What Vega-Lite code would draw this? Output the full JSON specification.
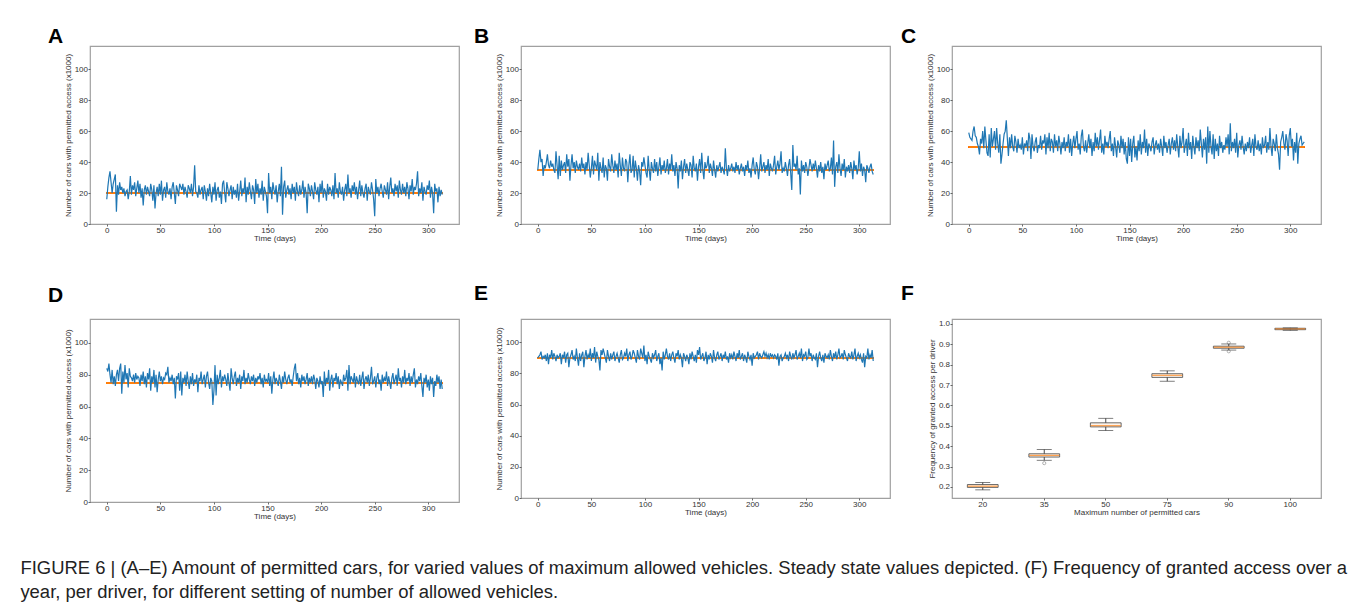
{"$schema":"https://vega.github.io/schema/vega-lite/v6.json","background":"white","padding":{"left":20,"top":25,"right":5,"bottom":5},
"datasets":{
"ts":[
{"t":0,"A":16,"B":35,"C":59,"D":84,"E":90},{"t":1,"A":24,"B":42,"C":56,"D":82,"E":91},{"t":2,"A":30,"B":48,"C":55,"D":87,"E":92},{"t":3,"A":34,"B":40,"C":54,"D":80,"E":94},{"t":4,"A":27,"B":42,"C":60,"D":75,"E":89},{"t":5,"A":20,"B":31,"C":63,"D":83,"E":91},{"t":6,"A":26,"B":38,"C":57,"D":74,"E":90},{"t":7,"A":29,"B":36,"C":56,"D":79,"E":92},{"t":8,"A":32,"B":40,"C":52,"D":73,"E":88},{"t":9,"A":8,"B":45,"C":50,"D":80,"E":93},
{"t":10,"A":25,"B":38,"C":45,"D":83,"E":86},{"t":11,"A":19,"B":36,"C":55,"D":76,"E":92},{"t":12,"A":27,"B":41,"C":52,"D":84,"E":90},{"t":13,"A":22,"B":37,"C":60,"D":87,"E":95},{"t":14,"A":24,"B":39,"C":49,"D":68,"E":89},{"t":15,"A":20,"B":35,"C":63,"D":82,"E":93},{"t":16,"A":23,"B":33,"C":54,"D":75,"E":91},{"t":17,"A":18,"B":47,"C":46,"D":86,"E":88},{"t":18,"A":21,"B":38,"C":44,"D":77,"E":92},{"t":19,"A":22,"B":29,"C":58,"D":81,"E":90},
{"t":20,"A":16,"B":44,"C":43,"D":72,"E":91},{"t":21,"A":21,"B":31,"C":62,"D":84,"E":93},{"t":22,"A":31,"B":41,"C":50,"D":79,"E":86},{"t":23,"A":19,"B":35,"C":55,"D":78,"E":92},{"t":24,"A":25,"B":38,"C":60,"D":76,"E":90},{"t":25,"A":22,"B":40,"C":48,"D":80,"E":94},{"t":26,"A":27,"B":33,"C":62,"D":75,"E":87},{"t":27,"A":18,"B":45,"C":52,"D":81,"E":92},{"t":28,"A":23,"B":37,"C":46,"D":77,"E":93},{"t":29,"A":28,"B":42,"C":58,"D":79,"E":84},
{"t":30,"A":20,"B":28,"C":39,"D":78,"E":90},{"t":31,"A":26,"B":38,"C":45,"D":73,"E":92},{"t":32,"A":17,"B":45,"C":52,"D":80,"E":95},{"t":33,"A":23,"B":36,"C":58,"D":76,"E":89},{"t":34,"A":12,"B":40,"C":60,"D":82,"E":91},{"t":35,"A":22,"B":33,"C":67,"D":74,"E":88},{"t":36,"A":25,"B":41,"C":55,"D":79,"E":96},{"t":37,"A":19,"B":37,"C":44,"D":72,"E":90},{"t":38,"A":24,"B":35,"C":56,"D":81,"E":85},{"t":39,"A":21,"B":39,"C":49,"D":77,"E":93},
{"t":40,"A":18,"B":34,"C":58,"D":84,"E":88},{"t":41,"A":26,"B":43,"C":50,"D":70,"E":92},{"t":42,"A":22,"B":36,"C":47,"D":79,"E":94},{"t":43,"A":15,"B":39,"C":57,"D":75,"E":84},{"t":44,"A":25,"B":32,"C":53,"D":83,"E":91},{"t":45,"A":10,"B":40,"C":46,"D":72,"E":95},{"t":46,"A":20,"B":35,"C":55,"D":80,"E":89},{"t":47,"A":24,"B":46,"C":49,"D":69,"E":92},{"t":48,"A":18,"B":38,"C":51,"D":77,"E":90},{"t":49,"A":26,"B":30,"C":48,"D":82,"E":96},
{"t":50,"A":19,"B":36,"C":56,"D":76,"E":88},{"t":51,"A":28,"B":44,"C":45,"D":79,"E":93},{"t":52,"A":15,"B":32,"C":52,"D":74,"E":90},{"t":53,"A":22,"B":41,"C":50,"D":78,"E":97},{"t":54,"A":24,"B":38,"C":54,"D":77,"E":87},{"t":55,"A":17,"B":35,"C":47,"D":81,"E":94},{"t":56,"A":27,"B":46,"C":59,"D":80,"E":91},{"t":57,"A":21,"B":28,"C":55,"D":85,"E":89},{"t":58,"A":19,"B":40,"C":42,"D":75,"E":82},{"t":59,"A":23,"B":36,"C":58,"D":78,"E":95},
{"t":60,"A":16,"B":33,"C":50,"D":76,"E":92},{"t":61,"A":24,"B":43,"C":47,"D":80,"E":96},{"t":62,"A":27,"B":30,"C":53,"D":74,"E":93},{"t":63,"A":20,"B":38,"C":56,"D":78,"E":90},{"t":64,"A":13,"B":36,"C":46,"D":65,"E":87},{"t":65,"A":25,"B":28,"C":51,"D":79,"E":95},{"t":66,"A":22,"B":42,"C":49,"D":77,"E":91},{"t":67,"A":18,"B":37,"C":57,"D":81,"E":88},{"t":68,"A":26,"B":34,"C":48,"D":70,"E":93},{"t":69,"A":24,"B":45,"C":54,"D":82,"E":89},
{"t":70,"A":22,"B":38,"C":52,"D":67,"E":92},{"t":71,"A":26,"B":33,"C":58,"D":78,"E":94},{"t":72,"A":19,"B":41,"C":45,"D":75,"E":88},{"t":73,"A":24,"B":35,"C":56,"D":80,"E":91},{"t":74,"A":21,"B":39,"C":49,"D":73,"E":93},{"t":75,"A":17,"B":30,"C":59,"D":82,"E":90},{"t":76,"A":25,"B":46,"C":47,"D":76,"E":87},{"t":77,"A":23,"B":38,"C":55,"D":71,"E":92},{"t":78,"A":20,"B":31,"C":53,"D":79,"E":95},{"t":79,"A":26,"B":43,"C":46,"D":74,"E":89},
{"t":80,"A":18,"B":36,"C":58,"D":81,"E":90},{"t":81,"A":24,"B":34,"C":50,"D":73,"E":93},{"t":82,"A":38,"B":42,"C":54,"D":77,"E":91},{"t":83,"A":21,"B":40,"C":47,"D":75,"E":96},{"t":84,"A":20,"B":27,"C":57,"D":80,"E":88},{"t":85,"A":17,"B":38,"C":52,"D":69,"E":92},{"t":86,"A":25,"B":45,"C":45,"D":78,"E":94},{"t":87,"A":19,"B":33,"C":53,"D":76,"E":89},{"t":88,"A":22,"B":35,"C":49,"D":82,"E":91},{"t":89,"A":24,"B":44,"C":56,"D":74,"E":95},
{"t":90,"A":16,"B":30,"C":47,"D":77,"E":93},{"t":91,"A":25,"B":41,"C":53,"D":80,"E":90},{"t":92,"A":21,"B":36,"C":50,"D":72,"E":87},{"t":93,"A":15,"B":28,"C":58,"D":79,"E":95},{"t":94,"A":23,"B":38,"C":46,"D":82,"E":91},{"t":95,"A":18,"B":34,"C":55,"D":75,"E":89},{"t":96,"A":26,"B":25,"C":44,"D":71,"E":96},{"t":97,"A":20,"B":40,"C":52,"D":78,"E":93},{"t":98,"A":14,"B":37,"C":57,"D":76,"E":90},{"t":99,"A":24,"B":43,"C":49,"D":61,"E":98},
{"t":100,"A":19,"B":38,"C":55,"D":70,"E":88},{"t":101,"A":27,"B":33,"C":60,"D":86,"E":92},{"t":102,"A":15,"B":30,"C":48,"D":67,"E":86},{"t":103,"A":22,"B":44,"C":52,"D":80,"E":94},{"t":104,"A":24,"B":35,"C":45,"D":74,"E":91},{"t":105,"A":17,"B":28,"C":57,"D":78,"E":89},{"t":106,"A":21,"B":40,"C":61,"D":83,"E":87},{"t":107,"A":13,"B":36,"C":50,"D":72,"E":93},{"t":108,"A":26,"B":33,"C":47,"D":79,"E":90},{"t":109,"A":28,"B":42,"C":54,"D":76,"E":92},
{"t":110,"A":20,"B":34,"C":46,"D":80,"E":95},{"t":111,"A":14,"B":40,"C":52,"D":77,"E":88},{"t":112,"A":27,"B":31,"C":58,"D":73,"E":91},{"t":113,"A":23,"B":37,"C":49,"D":81,"E":93},{"t":114,"A":18,"B":43,"C":55,"D":75,"E":86},{"t":115,"A":22,"B":32,"C":44,"D":70,"E":90},{"t":116,"A":25,"B":38,"C":53,"D":84,"E":82},{"t":117,"A":16,"B":35,"C":47,"D":78,"E":94},{"t":118,"A":24,"B":41,"C":59,"D":74,"E":89},{"t":119,"A":19,"B":33,"C":50,"D":79,"E":92},
{"t":120,"A":22,"B":36,"C":56,"D":82,"E":96},{"t":121,"A":17,"B":42,"C":48,"D":73,"E":91},{"t":122,"A":26,"B":32,"C":54,"D":78,"E":89},{"t":123,"A":15,"B":39,"C":61,"D":75,"E":93},{"t":124,"A":21,"B":35,"C":46,"D":80,"E":88},{"t":125,"A":28,"B":45,"C":52,"D":71,"E":92},{"t":126,"A":18,"B":34,"C":45,"D":79,"E":94},{"t":127,"A":23,"B":38,"C":57,"D":76,"E":90},{"t":128,"A":20,"B":31,"C":50,"D":83,"E":87},{"t":129,"A":30,"B":40,"C":53,"D":74,"E":93},
{"t":130,"A":14,"B":36,"C":49,"D":78,"E":91},{"t":131,"A":24,"B":23,"C":55,"D":75,"E":95},{"t":132,"A":19,"B":38,"C":60,"D":81,"E":89},{"t":133,"A":27,"B":34,"C":47,"D":77,"E":92},{"t":134,"A":21,"B":41,"C":52,"D":74,"E":90},{"t":135,"A":16,"B":29,"C":44,"D":79,"E":84},{"t":136,"A":25,"B":37,"C":56,"D":76,"E":93},{"t":137,"A":22,"B":42,"C":50,"D":80,"E":91},{"t":138,"A":13,"B":33,"C":43,"D":73,"E":88},{"t":139,"A":29,"B":39,"C":54,"D":78,"E":92},
{"t":140,"A":20,"B":35,"C":51,"D":75,"E":90},{"t":141,"A":26,"B":31,"C":46,"D":79,"E":86},{"t":142,"A":17,"B":40,"C":57,"D":77,"E":93},{"t":143,"A":23,"B":38,"C":49,"D":81,"E":89},{"t":144,"A":19,"B":30,"C":55,"D":74,"E":94},{"t":145,"A":28,"B":44,"C":45,"D":78,"E":91},{"t":146,"A":15,"B":36,"C":53,"D":72,"E":88},{"t":147,"A":24,"B":34,"C":42,"D":80,"E":92},{"t":148,"A":21,"B":39,"C":39,"D":76,"E":87},{"t":149,"A":18,"B":28,"C":56,"D":77,"E":95},
{"t":150,"A":7,"B":37,"C":44,"D":75,"E":92},{"t":151,"A":33,"B":42,"C":55,"D":81,"E":97},{"t":152,"A":20,"B":33,"C":40,"D":73,"E":89},{"t":153,"A":24,"B":46,"C":52,"D":79,"E":91},{"t":154,"A":16,"B":35,"C":57,"D":68,"E":93},{"t":155,"A":27,"B":29,"C":43,"D":77,"E":88},{"t":156,"A":22,"B":40,"C":50,"D":82,"E":90},{"t":157,"A":19,"B":36,"C":41,"D":74,"E":94},{"t":158,"A":25,"B":38,"C":54,"D":78,"E":86},{"t":159,"A":14,"B":44,"C":47,"D":76,"E":92},
{"t":160,"A":21,"B":33,"C":58,"D":73,"E":89},{"t":161,"A":26,"B":39,"C":45,"D":80,"E":93},{"t":162,"A":18,"B":36,"C":53,"D":76,"E":91},{"t":163,"A":37,"B":31,"C":49,"D":71,"E":87},{"t":164,"A":6,"B":41,"C":61,"D":79,"E":95},{"t":165,"A":24,"B":35,"C":46,"D":75,"E":90},{"t":166,"A":28,"B":30,"C":55,"D":82,"E":88},{"t":167,"A":17,"B":38,"C":44,"D":77,"E":92},{"t":168,"A":22,"B":34,"C":52,"D":74,"E":94},{"t":169,"A":25,"B":37,"C":50,"D":78,"E":89},
{"t":170,"A":19,"B":40,"C":47,"D":80,"E":91},{"t":171,"A":23,"B":33,"C":53,"D":75,"E":93},{"t":172,"A":16,"B":37,"C":56,"D":77,"E":88},{"t":173,"A":26,"B":35,"C":45,"D":73,"E":92},{"t":174,"A":20,"B":32,"C":51,"D":79,"E":90},{"t":175,"A":24,"B":49,"C":54,"D":84,"E":94},{"t":176,"A":15,"B":36,"C":48,"D":87,"E":89},{"t":177,"A":27,"B":31,"C":52,"D":76,"E":91},{"t":178,"A":21,"B":38,"C":46,"D":81,"E":87},{"t":179,"A":18,"B":34,"C":55,"D":74,"E":93},
{"t":180,"A":25,"B":36,"C":50,"D":78,"E":90},{"t":181,"A":19,"B":39,"C":44,"D":72,"E":92},{"t":182,"A":22,"B":34,"C":57,"D":80,"E":89},{"t":183,"A":28,"B":37,"C":49,"D":76,"E":94},{"t":184,"A":17,"B":33,"C":53,"D":79,"E":91},{"t":185,"A":24,"B":40,"C":46,"D":74,"E":88},{"t":186,"A":20,"B":35,"C":51,"D":77,"E":93},{"t":187,"A":7,"B":38,"C":55,"D":81,"E":90},{"t":188,"A":26,"B":32,"C":45,"D":73,"E":95},{"t":189,"A":23,"B":36,"C":52,"D":78,"E":89},
{"t":190,"A":18,"B":39,"C":56,"D":75,"E":91},{"t":191,"A":25,"B":34,"C":48,"D":79,"E":93},{"t":192,"A":21,"B":37,"C":54,"D":74,"E":88},{"t":193,"A":16,"B":31,"C":47,"D":80,"E":92},{"t":194,"A":27,"B":38,"C":58,"D":77,"E":90},{"t":195,"A":22,"B":35,"C":50,"D":71,"E":87},{"t":196,"A":19,"B":41,"C":43,"D":78,"E":94},{"t":197,"A":24,"B":33,"C":57,"D":76,"E":91},{"t":198,"A":14,"B":36,"C":49,"D":72,"E":89},{"t":199,"A":26,"B":30,"C":53,"D":79,"E":92},
{"t":200,"A":20,"B":38,"C":62,"D":74,"E":85},{"t":201,"A":28,"B":43,"C":46,"D":76,"E":93},{"t":202,"A":17,"B":35,"C":51,"D":66,"E":90},{"t":203,"A":23,"B":32,"C":55,"D":82,"E":91},{"t":204,"A":21,"B":40,"C":44,"D":73,"E":92},{"t":205,"A":15,"B":37,"C":59,"D":78,"E":94},{"t":206,"A":26,"B":29,"C":48,"D":75,"E":89},{"t":207,"A":19,"B":36,"C":53,"D":83,"E":93},{"t":208,"A":24,"B":45,"C":42,"D":70,"E":91},{"t":209,"A":22,"B":34,"C":57,"D":77,"E":90},
{"t":210,"A":18,"B":37,"C":50,"D":80,"E":92},{"t":211,"A":25,"B":40,"C":45,"D":72,"E":94},{"t":212,"A":16,"B":33,"C":56,"D":78,"E":91},{"t":213,"A":33,"B":38,"C":49,"D":76,"E":93},{"t":214,"A":20,"B":35,"C":54,"D":81,"E":90},{"t":215,"A":23,"B":42,"C":47,"D":74,"E":92},{"t":216,"A":17,"B":31,"C":61,"D":79,"E":89},{"t":217,"A":27,"B":39,"C":52,"D":71,"E":93},{"t":218,"A":21,"B":36,"C":43,"D":77,"E":91},{"t":219,"A":19,"B":34,"C":55,"D":75,"E":92},
{"t":220,"A":24,"B":38,"C":48,"D":73,"E":90},{"t":221,"A":15,"B":44,"C":56,"D":80,"E":92},{"t":222,"A":22,"B":32,"C":39,"D":76,"E":91},{"t":223,"A":26,"B":37,"C":63,"D":78,"E":89},{"t":224,"A":18,"B":41,"C":46,"D":83,"E":93},{"t":225,"A":32,"B":35,"C":60,"D":70,"E":85},{"t":226,"A":20,"B":39,"C":50,"D":86,"E":91},{"t":227,"A":23,"B":47,"C":45,"D":74,"E":92},{"t":228,"A":17,"B":33,"C":58,"D":79,"E":88},{"t":229,"A":25,"B":36,"C":42,"D":77,"E":90},
{"t":230,"A":21,"B":34,"C":55,"D":75,"E":91},{"t":231,"A":27,"B":40,"C":47,"D":81,"E":93},{"t":232,"A":19,"B":36,"C":52,"D":72,"E":90},{"t":233,"A":24,"B":31,"C":44,"D":79,"E":92},{"t":234,"A":16,"B":38,"C":57,"D":76,"E":88},{"t":235,"A":22,"B":42,"C":49,"D":74,"E":94},{"t":236,"A":28,"B":33,"C":53,"D":80,"E":91},{"t":237,"A":18,"B":22,"C":46,"D":73,"E":89},{"t":238,"A":25,"B":51,"C":51,"D":78,"E":93},{"t":239,"A":20,"B":37,"C":48,"D":82,"E":90},
{"t":240,"A":17,"B":39,"C":56,"D":71,"E":92},{"t":241,"A":23,"B":35,"C":50,"D":77,"E":95},{"t":242,"A":26,"B":44,"C":58,"D":79,"E":89},{"t":243,"A":15,"B":32,"C":45,"D":75,"E":91},{"t":244,"A":24,"B":36,"C":65,"D":80,"E":93},{"t":245,"A":21,"B":19,"C":47,"D":73,"E":90},{"t":246,"A":19,"B":41,"C":53,"D":78,"E":96},{"t":247,"A":27,"B":34,"C":49,"D":85,"E":88},{"t":248,"A":22,"B":38,"C":55,"D":74,"E":92},{"t":249,"A":16,"B":33,"C":46,"D":76,"E":91},
{"t":250,"A":5,"B":40,"C":59,"D":79,"E":94},{"t":251,"A":29,"B":37,"C":43,"D":72,"E":89},{"t":252,"A":20,"B":31,"C":51,"D":78,"E":90},{"t":253,"A":24,"B":36,"C":54,"D":81,"E":96},{"t":254,"A":18,"B":42,"C":48,"D":74,"E":91},{"t":255,"A":23,"B":38,"C":57,"D":77,"E":93},{"t":256,"A":26,"B":34,"C":50,"D":70,"E":88},{"t":257,"A":21,"B":39,"C":45,"D":80,"E":92},{"t":258,"A":17,"B":35,"C":52,"D":75,"E":90},{"t":259,"A":25,"B":41,"C":47,"D":78,"E":89},
{"t":260,"A":22,"B":36,"C":53,"D":76,"E":93},{"t":261,"A":19,"B":30,"C":49,"D":82,"E":84},{"t":262,"A":27,"B":38,"C":56,"D":73,"E":91},{"t":263,"A":16,"B":34,"C":46,"D":79,"E":94},{"t":264,"A":24,"B":40,"C":51,"D":75,"E":90},{"t":265,"A":30,"B":33,"C":55,"D":71,"E":88},{"t":266,"A":20,"B":37,"C":44,"D":78,"E":92},{"t":267,"A":23,"B":29,"C":58,"D":81,"E":87},{"t":268,"A":18,"B":39,"C":50,"D":74,"E":93},{"t":269,"A":26,"B":35,"C":48,"D":77,"E":91},
{"t":270,"A":21,"B":38,"C":54,"D":80,"E":90},{"t":271,"A":25,"B":41,"C":47,"D":73,"E":92},{"t":272,"A":17,"B":34,"C":52,"D":84,"E":89},{"t":273,"A":28,"B":36,"C":45,"D":76,"E":95},{"t":274,"A":22,"B":43,"C":56,"D":78,"E":91},{"t":275,"A":19,"B":32,"C":49,"D":72,"E":88},{"t":276,"A":26,"B":54,"C":51,"D":79,"E":93},{"t":277,"A":20,"B":24,"C":57,"D":75,"E":90},{"t":278,"A":24,"B":37,"C":46,"D":83,"E":94},{"t":279,"A":18,"B":40,"C":53,"D":74,"E":89},
{"t":280,"A":27,"B":33,"C":48,"D":78,"E":92},{"t":281,"A":23,"B":45,"C":62,"D":76,"E":96},{"t":282,"A":16,"B":36,"C":50,"D":81,"E":90},{"t":283,"A":25,"B":31,"C":44,"D":73,"E":91},{"t":284,"A":21,"B":39,"C":55,"D":79,"E":93},{"t":285,"A":29,"B":35,"C":52,"D":75,"E":89},{"t":286,"A":19,"B":42,"C":47,"D":80,"E":95},{"t":287,"A":24,"B":30,"C":58,"D":84,"E":92},{"t":288,"A":22,"B":37,"C":49,"D":72,"E":90},{"t":289,"A":26,"B":34,"C":45,"D":77,"E":88},
{"t":290,"A":34,"B":38,"C":35,"D":74,"E":93},{"t":291,"A":18,"B":33,"C":53,"D":79,"E":91},{"t":292,"A":23,"B":40,"C":56,"D":76,"E":90},{"t":293,"A":20,"B":36,"C":60,"D":81,"E":94},{"t":294,"A":27,"B":29,"C":52,"D":73,"E":89},{"t":295,"A":15,"B":41,"C":48,"D":66,"E":92},{"t":296,"A":24,"B":35,"C":58,"D":78,"E":96},{"t":297,"A":21,"B":38,"C":54,"D":75,"E":88},{"t":298,"A":19,"B":32,"C":44,"D":80,"E":91},{"t":299,"A":25,"B":36,"C":57,"D":72,"E":93},
{"t":300,"A":22,"B":47,"C":62,"D":77,"E":90},{"t":301,"A":28,"B":34,"C":50,"D":70,"E":92},{"t":302,"A":17,"B":39,"C":55,"D":79,"E":89},{"t":303,"A":24,"B":31,"C":41,"D":74,"E":87},{"t":304,"A":20,"B":37,"C":53,"D":78,"E":93},{"t":305,"A":7,"B":35,"C":46,"D":66,"E":84},{"t":306,"A":26,"B":27,"C":59,"D":76,"E":91},{"t":307,"A":21,"B":38,"C":39,"D":73,"E":90},{"t":308,"A":23,"B":36,"C":52,"D":80,"E":96},{"t":309,"A":14,"B":33,"C":55,"D":75,"E":89},
{"t":310,"A":24,"B":37,"C":57,"D":79,"E":92},{"t":311,"A":18,"B":39,"C":51,"D":71,"E":90},{"t":312,"A":22,"B":34,"C":52,"D":77,"E":95},{"t":313,"A":19,"B":32,"C":53,"D":71,"E":88}
],
"box":[
{"m":"20","lo":0.186,"q1":0.198,"med":0.204,"q3":0.212,"hi":0.222},
{"m":"35","lo":0.331,"q1":0.347,"med":0.355,"q3":0.363,"hi":0.384},
{"m":"50","lo":0.477,"q1":0.495,"med":0.501,"q3":0.515,"hi":0.537},
{"m":"75","lo":0.719,"q1":0.738,"med":0.748,"q3":0.756,"hi":0.770},
{"m":"90","lo":0.872,"q1":0.881,"med":0.886,"q3":0.891,"hi":0.902},
{"m":"100","lo":0.969,"q1":0.972,"med":0.976,"q3":0.979,"hi":0.981}
],
"out":[{"m":"35","v":0.317},{"m":"90","v":0.866},{"m":"90","v":0.908}]
},
"columns":3,"spacing":{"row":95,"column":62},"bounds":"flush","center":true,
"concat":[
{"title":{"text":"A","dx":-42,"offset":-1},"width":369,"height":178,"data":{"name":"ts"},"layer":[
{"mark":{"type":"rule","color":"#ff7f0e","strokeWidth":1},"encoding":{"x":{"datum":0,"type":"quantitative"},"x2":{"datum":313},"y":{"datum":20,"type":"quantitative"}}},
{"mark":{"type":"line","color":"#1f77b4","strokeWidth":1.2},"encoding":{"x":{"field":"t","type":"quantitative","scale":{"domain":[-15.65,328.65],"nice":false,"zero":false},"axis":{"values":[0,50,100,150,200,250,300],"labelOverlap":false,"title":"Time (days)"}},"y":{"field":"A","type":"quantitative","scale":{"domain":[0,115],"nice":false},"axis":{"values":[0,20,40,60,80,100],"tickCount":6,"labelOverlap":false,"title":"Number of cars with permitted access (x1000)"}}}}]},
{"title":{"text":"B","dx":-47,"offset":-1},"width":369,"height":178,"data":{"name":"ts"},"layer":[
{"mark":{"type":"rule","color":"#ff7f0e","strokeWidth":1},"encoding":{"x":{"datum":0,"type":"quantitative"},"x2":{"datum":313},"y":{"datum":35,"type":"quantitative"}}},
{"mark":{"type":"line","color":"#1f77b4","strokeWidth":1.2},"encoding":{"x":{"field":"t","type":"quantitative","scale":{"domain":[-15.65,328.65],"nice":false,"zero":false},"axis":{"values":[0,50,100,150,200,250,300],"labelOverlap":false,"title":"Time (days)"}},"y":{"field":"B","type":"quantitative","scale":{"domain":[0,115],"nice":false},"axis":{"values":[0,20,40,60,80,100],"tickCount":6,"labelOverlap":false,"title":"Number of cars with permitted access (x1000)"}}}}]},
{"title":{"text":"C","dx":-51,"offset":-1},"width":369,"height":178,"data":{"name":"ts"},"layer":[
{"mark":{"type":"rule","color":"#ff7f0e","strokeWidth":1},"encoding":{"x":{"datum":0,"type":"quantitative"},"x2":{"datum":313},"y":{"datum":50,"type":"quantitative"}}},
{"mark":{"type":"line","color":"#1f77b4","strokeWidth":1.2},"encoding":{"x":{"field":"t","type":"quantitative","scale":{"domain":[-15.65,328.65],"nice":false,"zero":false},"axis":{"values":[0,50,100,150,200,250,300],"labelOverlap":false,"title":"Time (days)"}},"y":{"field":"C","type":"quantitative","scale":{"domain":[0,115],"nice":false},"axis":{"values":[0,20,40,60,80,100],"tickCount":6,"labelOverlap":false,"title":"Number of cars with permitted access (x1000)"}}}}]},
{"title":{"text":"D","dx":-42,"offset":13},"width":369,"height":183,"data":{"name":"ts"},"layer":[
{"mark":{"type":"rule","color":"#ff7f0e","strokeWidth":1},"encoding":{"x":{"datum":0,"type":"quantitative"},"x2":{"datum":313},"y":{"datum":75,"type":"quantitative"}}},
{"mark":{"type":"line","color":"#1f77b4","strokeWidth":1.2},"encoding":{"x":{"field":"t","type":"quantitative","scale":{"domain":[-15.65,328.65],"nice":false,"zero":false},"axis":{"values":[0,50,100,150,200,250,300],"labelOverlap":false,"title":"Time (days)"}},"y":{"field":"D","type":"quantitative","scale":{"domain":[0,115],"nice":false},"axis":{"values":[0,20,40,60,80,100],"tickCount":6,"labelOverlap":false,"title":"Number of cars with permitted access (x1000)"}}}}]},
{"title":{"text":"E","dx":-47,"offset":15},"width":369,"height":179,"data":{"name":"ts"},"layer":[
{"mark":{"type":"rule","color":"#ff7f0e","strokeWidth":1},"encoding":{"x":{"datum":0,"type":"quantitative"},"x2":{"datum":313},"y":{"datum":90,"type":"quantitative"}}},
{"mark":{"type":"line","color":"#1f77b4","strokeWidth":1.2},"encoding":{"x":{"field":"t","type":"quantitative","scale":{"domain":[-15.65,328.65],"nice":false,"zero":false},"axis":{"values":[0,50,100,150,200,250,300],"labelOverlap":false,"title":"Time (days)"}},"y":{"field":"E","type":"quantitative","scale":{"domain":[0,115],"nice":false},"axis":{"values":[0,20,40,60,80,100],"tickCount":6,"labelOverlap":false,"title":"Number of cars with permitted access (x1000)"}}}}]},
{"title":{"text":"F","dx":-51,"offset":15},"width":369,"height":179,"layer":[
{"data":{"name":"box"},"mark":{"type":"rule","color":"#333","strokeWidth":0.9},"encoding":{"x":{"field":"m","type":"nominal","scale":{"type":"band","domain":["20","35","50","75","90","100"],"paddingInner":0,"paddingOuter":0},"axis":{"title":"Maximum number of permitted cars","labelAngle":0,"labelOverlap":false}},"y":{"field":"lo","type":"quantitative","scale":{"domain":[0.146,1.0245],"nice":false,"zero":false},"axis":{"values":[0.2,0.3,0.4,0.5,0.6,0.7,0.8,0.9,1.0],"tickCount":9,"labelOverlap":false,"format":".1f","title":"Frequency of granted access per driver"}},"y2":{"field":"hi"}}},
{"data":{"name":"box"},"mark":{"type":"bar","fill":"#fdf3ea","stroke":"#444","strokeWidth":0.8,"width":{"band":0.5}},"encoding":{"x":{"field":"m","type":"nominal"},"y":{"field":"q1","type":"quantitative"},"y2":{"field":"q3"}}},
{"data":{"name":"box"},"mark":{"type":"tick","color":"#ff7f0e","size":30,"thickness":1.2},"encoding":{"x":{"field":"m","type":"nominal"},"y":{"field":"med","type":"quantitative"}}},
{"data":{"name":"box"},"mark":{"type":"tick","color":"#333","size":15,"thickness":0.9},"encoding":{"x":{"field":"m","type":"nominal"},"y":{"field":"lo","type":"quantitative"}}},
{"data":{"name":"box"},"mark":{"type":"tick","color":"#333","size":15,"thickness":0.9},"encoding":{"x":{"field":"m","type":"nominal"},"y":{"field":"hi","type":"quantitative"}}},
{"data":{"name":"out"},"mark":{"type":"point","shape":"circle","filled":false,"color":"#666","size":10,"strokeWidth":0.7},"encoding":{"x":{"field":"m","type":"nominal"},"y":{"field":"v","type":"quantitative"}}}]}
],
"title":{"text":["FIGURE 6 | (A–E) Amount of permitted cars, for varied values of maximum allowed vehicles. Steady state values depicted. (F) Frequency of granted access over a","year, per driver, for different setting of number of allowed vehicles."],"orient":"bottom","anchor":"start","frame":"bounds","font":"Liberation Sans","fontWeight":"normal","fontSize":18.45,"lineHeight":24,"offset":38,"dx":-27,"baseline":"top","color":"#222"},
"config":{
"view":{"stroke":"#a0a0a0","strokeWidth":1.2},
"axis":{"grid":false,"domain":false,"ticks":true,"tickSize":2,"tickColor":"#444","tickWidth":0.8,"labelOverlap":false,"labelFont":"Liberation Sans","labelFontSize":8,"labelColor":"#333","labelPadding":0.5,"titleFont":"Liberation Sans","titleFontSize":8,"titleFontWeight":"normal","titleColor":"#333"},
"axisX":{"titlePadding":0,"labelAngle":0},
"axisY":{"titlePadding":2},
"title":{"font":"Liberation Sans","fontWeight":"bold","fontSize":21,"color":"#000","anchor":"start","frame":"group","baseline":"alphabetic"}
}
}
